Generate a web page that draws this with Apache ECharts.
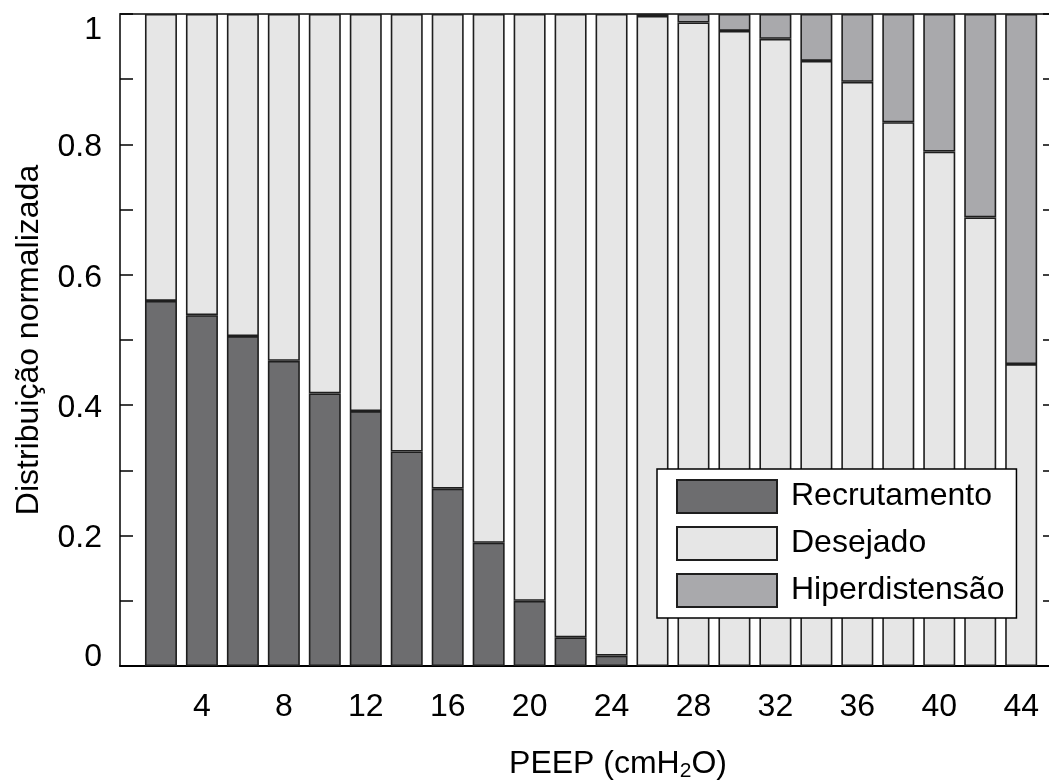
<!DOCTYPE html>
<html>
<head>
<meta charset="utf-8">
<script src="https://cdn.jsdelivr.net/npm/echarts@6/dist/echarts.min.js"></script>
<style>html,body{margin:0;padding:0;background:#fff;}#c{width:1049px;height:780px;}</style>
</head>
<body>
<div id="c"></div>
<script>
// PEEP values (cmH2O)
const peep = [2,4,6,8,10,12,14,16,18,20,22,24,26,28,30,32,34,36,38,40,42,44];
// Normalised distribution per category
const recrutamento = [0.560,0.538,0.506,0.468,0.418,0.391,0.329,0.272,0.189,0.100,0.044,0.016,0,0,0,0,0,0,0,0,0,0];
const desejado     = [0.440,0.462,0.494,0.532,0.582,0.609,0.671,0.728,0.811,0.900,0.956,0.984,0.997,0.987,0.974,0.962,0.928,0.896,0.834,0.789,0.688,0.463];
const hiperdistensao = [0,0,0,0,0,0,0,0,0,0,0,0,0.003,0.013,0.026,0.038,0.072,0.104,0.166,0.211,0.312,0.537];
const seriesNames = ['Recrutamento','Desejado','Hiperdistensão'];
const xTickLabels = [4,8,12,16,20,24,28,32,36,40,44];
const yTickLabels = ['0','0.2','0.4','0.6','0.8','1'];

const FONT = "'Liberation Sans', Arial, Helvetica, sans-serif";
const FS = 32;
const colors = ['#6d6d6f', '#e6e6e6', '#a9a9ac'];
const values = [recrutamento, desejado, hiperdistensao];

const chart = echarts.init(document.getElementById('c'), null, {renderer: 'canvas'});

// value first, PEEP second (encode maps them), so the stack runs on the value dimension
function pairData(arr) {
  return peep.map((x, i) => [arr[i] > 0 ? arr[i] : '-', x]);
}

const option = {
  animation: false,
  backgroundColor: '#ffffff',
  textStyle: {fontFamily: FONT},
  grid: {left: 120, top: 14, bottom: 114, width: 936, containLabel: false, outerBoundsMode: 'none'},
  legend: {
    orient: 'vertical',
    left: 657, top: 469,
    data: seriesNames,
    icon: 'rect',
    itemWidth: 100, itemHeight: 33, itemGap: 12,
    padding: [10, 12, 10, 19],
    backgroundColor: '#ffffff',
    borderColor: '#000000', borderWidth: 1.5,
    textStyle: {fontFamily: FONT, fontSize: FS, color: '#000', lineHeight: 33, padding: [0,0,0,9]},
    z: 10
  },
  xAxis: [{
    type: 'value', position: 'bottom',
    min: 0, max: 45.7, interval: 4,
    axisLine: {show: true, onZero: false, lineStyle: {color: '#000', width: 2}},
    axisTick: {show: false},
    splitLine: {show: false},
    axisLabel: {
      fontFamily: FONT, fontSize: FS, color: '#000', margin: 25,
      showMaxLabel: false, showMinLabel: false,
      formatter: v => xTickLabels.indexOf(Math.round(v)) >= 0 && Math.abs(v - Math.round(v)) < 1e-6 ? String(Math.round(v)) : ''
    },
    name: '{n|PEEP (cmH}{s|2}{n|O)}',
    nameLocation: 'middle',
    nameGap: 81,
    nameTextStyle: {
      padding: [0, 0, 0, 60],
      rich: {
        n: {fontFamily: FONT, fontSize: FS, color: '#000'},
        s: {fontFamily: FONT, fontSize: 21, color: '#000', padding: [14, 0, 0, 0]}
      }
    }
  }, {
    type: 'value', position: 'top',
    min: 0, max: 45.7, interval: 4,
    axisLine: {show: true, onZero: false, lineStyle: {color: '#444', width: 2}},
    axisTick: {show: false}, axisLabel: {show: false}, splitLine: {show: false}
  }],
  yAxis: [{
    type: 'value', position: 'left',
    min: 0, max: 1, interval: 0.1,
    axisLine: {show: true, onZero: false, lineStyle: {color: '#000', width: 1.5}},
    axisTick: {show: true, inside: true, length: 13, lineStyle: {color: '#000', width: 1.5}},
    splitLine: {show: false},
    axisLabel: {
      fontFamily: FONT, fontSize: FS, color: '#000', margin: 18,
      formatter: v => {
        const k = Math.round(v * 10);
        if (k % 2 !== 0) return '';
        const t = yTickLabels[k / 2];
        if (k === 10) return '{t|' + t + '}';
        if (k === 0) return '{b|' + t + '}';
        return '{m|' + t + '}';
      },
      rich: {
        t: {fontFamily: FONT, fontSize: FS, color: '#000', padding: [32, 0, 0, 0]},
        m: {fontFamily: FONT, fontSize: FS, color: '#000', padding: [6, 0, 0, 0]},
        b: {fontFamily: FONT, fontSize: FS, color: '#000', padding: [0, 0, 18, 0]}
      }
    },
    name: 'Distribuição normalizada',
    nameLocation: 'middle',
    nameRotate: 90,
    nameGap: 75,
    nameTextStyle: {fontFamily: FONT, fontSize: FS, color: '#000'}
  }, {
    type: 'value', position: 'right',
    min: 0, max: 1, interval: 0.1,
    axisLine: {show: true, onZero: false, lineStyle: {color: '#000', width: 1.5}},
    axisTick: {show: true, inside: true, length: 13, lineStyle: {color: '#000', width: 1.5}},
    axisLabel: {show: false}, splitLine: {show: false}
  }],
  series: seriesNames.map((name, i) => ({
    name: name,
    type: 'bar',
    stack: 'total',
    xAxisIndex: 0, yAxisIndex: 0,
    encode: {x: 1, y: 0},
    barWidth: 32,
    itemStyle: {color: colors[i], borderColor: '#1e1e1e', borderWidth: 1.6},
    data: pairData(values[i])
  }))
};
chart.setOption(option);
</script>
</body>
</html>
